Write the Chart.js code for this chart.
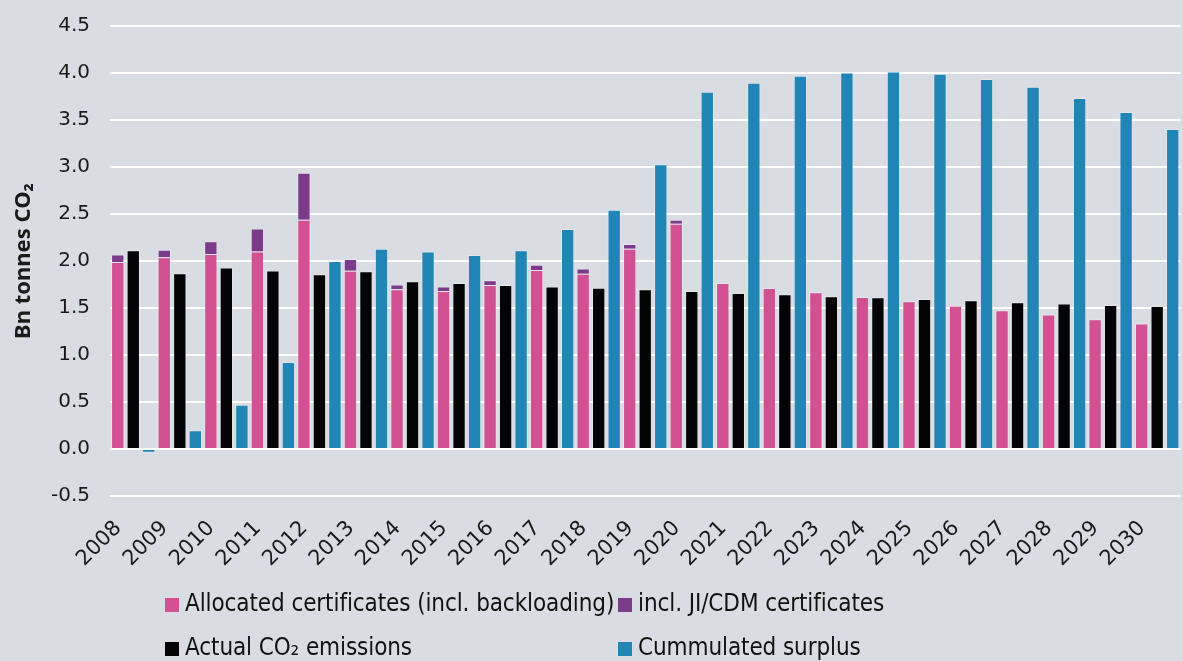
<!DOCTYPE html>
<html>
<head>
<meta charset="utf-8">
<script src="https://cdn.jsdelivr.net/npm/chart.js@4"></script>
<style>
  html, body { margin: 0; padding: 0; background: #d9dce3; overflow: hidden; }
  #wrap { position: relative; width: 1187px; height: 661px; }
  #box { position: absolute; left: 0; top: -6px; width: 1187px; height: 600px; }
  #legend { position: absolute; left: 0; top: 0; width: 1183px; height: 661px; pointer-events: none; }
  .sw { position: absolute; width: 14px; height: 14px; }
  .txt { position: absolute; font-family: 'Liberation Sans Narrow', 'DejaVu Sans Condensed', sans-serif;
         font-size: 24px; line-height: 24px; letter-spacing: -0.1px; color: #111; white-space: nowrap; }
</style>
</head>
<body>
<div id="wrap">
  <div id="box"><canvas id="chart"></canvas></div>
  <div id="legend"></div>
</div>
<script>
// years on the x axis
const years = ['2008', '2009', '2010', '2011', '2012', '2013', '2014', '2015', '2016', '2017', '2018', '2019',
    '2020', '2021', '2022', '2023', '2024', '2025', '2026', '2027', '2028', '2029', '2030'];

// Bn tonnes CO2
const allocated = [1.99, 2.04, 2.075, 2.10, 2.44, 1.895, 1.70, 1.68, 1.745, 1.905, 1.865, 2.13,
    2.395, 1.765, 1.714, 1.668, 1.618, 1.573, 1.523, 1.477, 1.431, 1.381, 1.335];
const jiCdm = [0.08, 0.08, 0.135, 0.245, 0.50, 0.125, 0.05, 0.05, 0.05, 0.055, 0.055, 0.05,
    0.045, null, null, null, null, null, null, null, null, null, null];
const actual = [2.115, 1.87, 1.93, 1.90, 1.86, 1.89, 1.785, 1.765, 1.745, 1.73, 1.715, 1.70,
    1.68, 1.66, 1.647, 1.626, 1.615, 1.597, 1.583, 1.562, 1.548, 1.533, 1.52];
const surplus = [-0.04, 0.20, 0.47, 0.925, 2.0, 2.13, 2.10, 2.065, 2.115, 2.34, 2.545, 3.03,
    3.80, 3.896, 3.971, 4.006, 4.017, 3.992, 3.935, 3.853, 3.733, 3.584, 3.404];

const seriesNames = ['Allocated certificates (incl. backloading)', 'incl. JI/CDM certificates',
    'Actual CO\u2082 emissions', 'Cummulated surplus'];
const seriesColors = ['#d35192', '#7b3b8a', '#040406', '#2186b6'];
const yTicks = [-0.5, 0, 0.5, 1, 1.5, 2, 2.5, 3, 3.5, 4, 4.5];

const tickFont = { family: "'DejaVu Sans', sans-serif", size: 20 };

const ctx = document.getElementById('chart').getContext('2d');
const chart = new Chart(ctx, {
    type: 'bar',
    data: {
        labels: years,
        datasets: [
            { label: seriesNames[0], data: allocated, stack: 'alloc', backgroundColor: seriesColors[0] },
            { label: seriesNames[1], data: jiCdm, stack: 'alloc', backgroundColor: seriesColors[1] },
            { label: seriesNames[2], data: actual, stack: 'actual', backgroundColor: seriesColors[2] },
            { label: seriesNames[3], data: surplus, stack: 'surplus', backgroundColor: seriesColors[3] }
        ].map(ds => Object.assign(ds, {
            borderColor: 'rgba(255, 255, 255, 0.3)',
            borderWidth: 1,
            categoryPercentage: 1.0,
            barPercentage: 0.86
        }))
    },
    options: {
        responsive: true,
        maintainAspectRatio: false,
        animation: false,
        layout: { padding: { top: 4, right: 0, left: 0, bottom: 0 } },
        plugins: {
            legend: { display: false },
            tooltip: { enabled: false }
        },
        scales: {
            x: {
                stacked: true,
                grid: { display: false },
                border: { display: false },
                ticks: {
                    color: '#1a1a1a',
                    font: { family: "'DejaVu Sans', sans-serif", size: 21 },
                    maxRotation: 45,
                    minRotation: 45,
                    autoSkip: false,
                    padding: 12,
                    labelOffset: -15
                },
                afterFit: scale => { scale.height = 98; }
            },
            y: {
                stacked: true,
                min: -0.5,
                max: 4.5,
                afterBuildTicks: scale => { scale.ticks = yTicks.map(v => ({ value: v })); },
                grid: { color: '#ffffff', lineWidth: 2, drawTicks: false },
                border: { display: false },
                ticks: {
                    color: '#1a1a1a',
                    font: tickFont,
                    padding: 20,
                    callback: v => v.toFixed(1)
                },
                title: {
                    display: true,
                    text: 'Bn tonnes CO\u2082',
                    color: '#1a1a1a',
                    font: { family: "'Noto Sans', 'Open Sans', sans-serif", size: 22, weight: 'bold' },
                    padding: { top: 11, bottom: 0 }
                },
                afterFit: scale => { scale.width = 110; }
            }
        }
    }
});

// legend laid out in two aligned columns, as in the original
const legendCols = [165, 618, 165, 618];
const legendRows = [598, 598, 642, 642];
const legendEl = document.getElementById('legend');
seriesNames.forEach((name, i) => {
    const sw = document.createElement('div');
    sw.className = 'sw';
    sw.style.left = legendCols[i] + 'px';
    sw.style.top = legendRows[i] + 'px';
    sw.style.background = seriesColors[i];
    legendEl.appendChild(sw);
    const txt = document.createElement('div');
    txt.className = 'txt';
    txt.style.left = (legendCols[i] + 20) + 'px';
    txt.style.top = (legendRows[i] - 7) + 'px';
    txt.textContent = name;
    legendEl.appendChild(txt);
});
</script>
</body>
</html>
